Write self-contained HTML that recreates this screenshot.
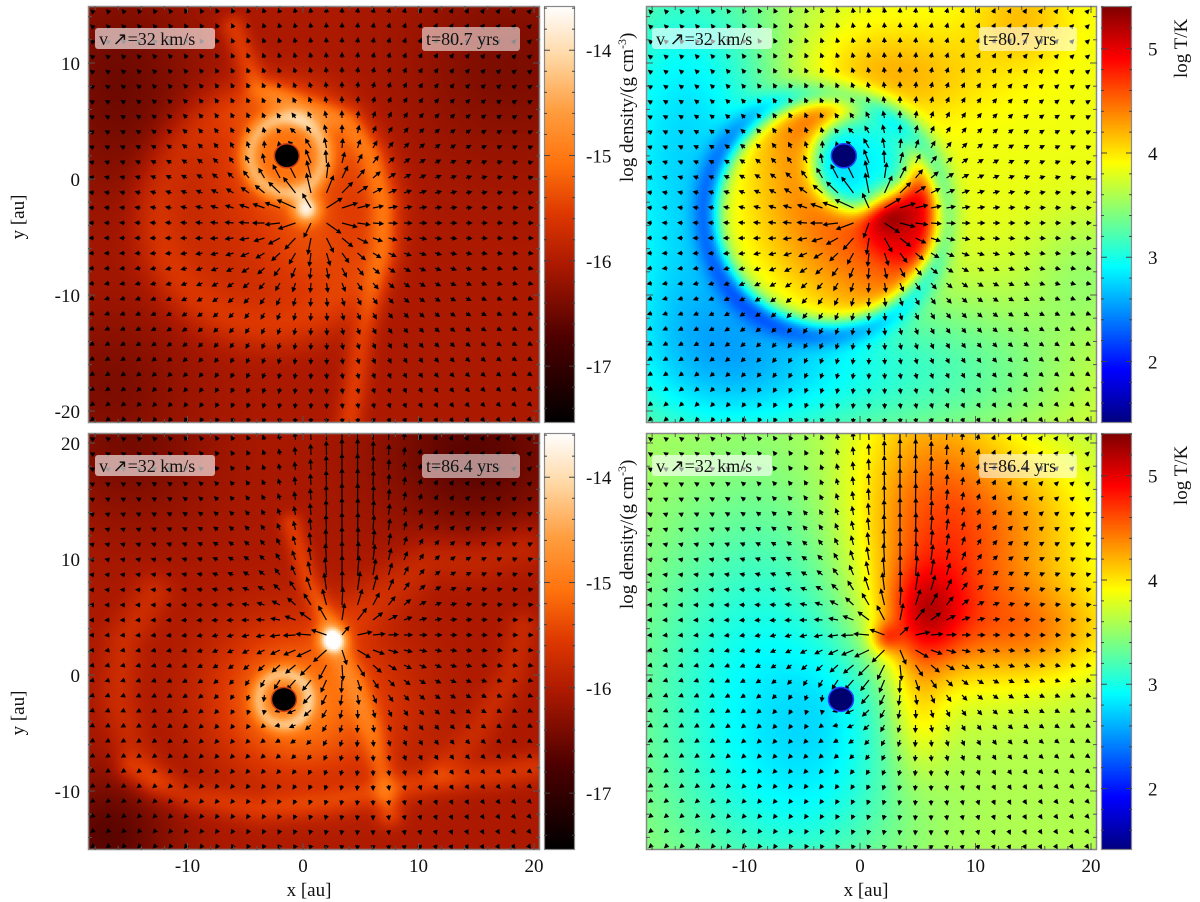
<!DOCTYPE html>
<html><head><meta charset="utf-8">
<style>
body{margin:0;background:#fff;width:1200px;height:902px;overflow:hidden;font-family:"Liberation Serif",serif;}
#wrap{position:relative;width:1200px;height:902px;}
canvas{position:absolute;}
svg{position:absolute;left:0;top:0;}
</style></head>
<body>
<div id="wrap">
<canvas id="c0"></canvas>
<canvas id="c1"></canvas>
<canvas id="c2"></canvas>
<canvas id="c3"></canvas>
<canvas id="cb0"></canvas>
<canvas id="cb1"></canvas>
<canvas id="cb2"></canvas>
<canvas id="cb3"></canvas>
<svg id="ov" width="1200" height="902"></svg>
</div>
<script>
// ---------- data (au coordinates, field values) ----------
const xTicks=[-10,0,10,20];
const yTicksTop=[10,0,-10,-20];
const yTicksBottom=[20,10,0,-10];
const densTicks=[-14,-15,-16,-17];
const tempTicks=[5,4,3,2];
const densRange=[-17.54,-13.58];
const tempRange=[1.41,5.41];
const timeLabels=["t=80.7 yrs","t=86.4 yrs"];
const starTop=[-1.4,2.0];
const starBottom=[-1.65,-2.1];
// gaussians: [cx,cy,sx,sy,amp]
const dens1Gauss=[[-16,8,5,7,-0.45],[18,10,6,6,-0.35],[-17,-18,5,5,-0.35],[-1.4,2.0,3.5,3.5,0.7],[0.3,-2.6,0.8,0.8,1.6],[1,-6,3,3,0.3]];
const dens1Rings=[[-3,-3,10,1.5,0.3],[-1.4,2.0,3.2,0.6,0.9]];
const dens1Discs=[[-3,-3,10,0.8,0.3]];
const dens1Fils=[[0.5,0.8,[-6,13,-4,8,0,6,4,5,6,2,7,-2,7,-6,6,-10,5,-14,4.5,-18,4,-21]]];
const dens1Base=-16.05;
const temp1Gauss=[[-15,2,7,14,-1.1],[-8,-16,10,6,-0.9],[2.3,-2.7,1.3,1.3,0.5],[2,9,6,3,0.4],[14,14,3,3,0.3],[10,-17,8,5,-0.4],[20,-8,4,4,-0.3]];
const temp1Rings=[[-3,-3,10.3,0.9,-0.55]];
const temp1Discs=[[-3,-3,9.5,0.5,1.0],[3.8,-3.8,3.5,0.5,0.3],[0.2,1.5,4.2,0.6,-1.9]];
const temp1Fils=[];
const temp1Base=3.85;
const dens2Gauss=[[15,19,6,5,-0.6],[-15,20,5,5,-0.4],[-17,-14,4,4,-0.6],[-1.65,-2.1,4.5,4.5,0.9],[2.6,3.0,0.7,0.7,1.6],[4,-3,5,5,0.4]];
const dens2Rings=[[-1.65,-2.1,2.2,0.5,0.8]];
const dens2Discs=[];
const dens2Fils=[[0.5,0.7,[-1,13,0.5,8,2,5,2.6,3]],[0.5,0.8,[2.6,3,4.5,-1,6,-5,7,-9,7.5,-12]],[0.4,0.9,[-15,-8,-10,-10.5,-4,-11.5,2,-11,7,-10,12,-9,17,-8.5,20,-8]],[0.3,1.2,[-13,7,-15.5,3,-16,-2,-15,-6,-13,-9]],[0.3,1.5,[3,4,7,7,11,10,15,10,19,11]],[0.25,1.0,[19,4,18,0,15,-5,12,-8]]];
const dens2Base=-16.05;
const temp2Gauss=[[6,13,5,9,0.9],[13,9,7,6,0.4],[5.5,5,2.5,3,0.8],[2.2,3.2,0.9,0.9,0.6],[15,3.5,5,3,0.5],[5,-3,1.8,4,0.4],[15,15,4,4,0.2],[-8,-2,8,12,-0.7],[-1.65,-2.1,4,4,-0.2],[-3,-10,5,5,-0.2]];
const temp2Rings=[];
const temp2Discs=[];
const temp2Fils=[];
const temp2Base=3.6;
// velocity sources: [cx,cy,strength]
const flowTop=[[1,-3,1.0],[-1.4,2.0,-0.25]];
const flowBottom=[[3,3,0.8],[-1.65,-2.1,-0.2]];
const jetBottom=[4,4,4,0.25]; // x centre, y start, width, strength
// ---------- layout ----------
const panels=[
 {c:'c0',cb:'cb0',x0:88,y0:6,w:452,h:417,xz:303,yz:179,kind:'d',base:dens1Base,g:dens1Gauss,r:dens1Rings,d:dens1Discs,f:dens1Fils,star:starTop,flow:flowTop,jet:null,yt:yTicksTop,t:0,left:true},
 {c:'c1',cb:'cb1',x0:646,y0:6,w:451,h:417,xz:860,yz:179,kind:'t',base:temp1Base,g:temp1Gauss,r:temp1Rings,d:temp1Discs,f:temp1Fils,star:starTop,flow:flowTop,jet:null,yt:yTicksTop,t:0,left:false},
 {c:'c2',cb:'cb2',x0:88,y0:433,w:452,h:417,xz:303,yz:675,kind:'d',base:dens2Base,g:dens2Gauss,r:dens2Rings,d:dens2Discs,f:dens2Fils,star:starBottom,flow:flowBottom,jet:jetBottom,yt:yTicksBottom,t:1,left:true},
 {c:'c3',cb:'cb3',x0:646,y0:433,w:451,h:417,xz:860,yz:675,kind:'t',base:temp2Base,g:temp2Gauss,r:temp2Rings,d:temp2Discs,f:temp2Fils,star:starBottom,flow:flowBottom,jet:jetBottom,yt:yTicksBottom,t:1,left:false}
];
const SX=11.55, SY=11.6;
const densStops=[[0,0,0,0],[.2,.3,0,0],[.38,.68,.1,0],[.5,.87,.22,0],[.62,1,.45,.05],[.75,1,.62,.25],[.88,1,.85,.65],[1,1,1,1]];
const jetStops=[[0,0,0,.5],[.125,0,0,1],[.375,0,1,1],[.625,1,1,0],[.875,1,0,0],[1,.5,0,0]];
function cmap(st,t){t=Math.max(0,Math.min(1,t));for(let i=1;i<st.length;i++){if(t<=st[i][0]){const a=st[i-1],b=st[i],u=(t-a[0])/(b[0]-a[0]);return [a[1]+(b[1]-a[1])*u,a[2]+(b[2]-a[2])*u,a[3]+(b[3]-a[3])*u];}}const l=st[st.length-1];return [l[1],l[2],l[3]];}
function segDist(px,py,pts){let m=1e9;for(let i=0;i+3<pts.length;i+=2){const ax=pts[i],ay=pts[i+1],bx=pts[i+2],by=pts[i+3];const dx=bx-ax,dy=by-ay;let u=((px-ax)*dx+(py-ay)*dy)/(dx*dx+dy*dy);u=Math.max(0,Math.min(1,u));const ex=ax+u*dx-px,ey=ay+u*dy-py;const d=Math.sqrt(ex*ex+ey*ey);if(d<m)m=d;}return m;}
function field(P,x,y){let v=P.base;
 for(const g of P.g){const a=(x-g[0])/g[2],b=(y-g[1])/g[3];v+=g[4]*Math.exp(-0.5*(a*a+b*b));}
 for(const r of P.r){const d=Math.hypot(x-r[0],y-r[1])-r[2];v+=r[4]*Math.exp(-0.5*(d/r[3])*(d/r[3]));}
 for(const r of P.d){const d=Math.hypot(x-r[0],y-r[1]);v+=r[4]/(1+Math.exp((d-r[2])/r[3]));}
 for(const f of P.f){const d=segDist(x,y,f[2]);v+=f[0]*Math.exp(-0.5*(d/f[1])*(d/f[1]));}
 return v;}
const NS='http://www.w3.org/2000/svg';
const ov=document.getElementById('ov');
function mk(tag,attrs,parent){const e=document.createElementNS(NS,tag);for(const k in attrs)e.setAttribute(k,attrs[k]);(parent||ov).appendChild(e);return e;}
function txt(s,x,y,attrs,parent){const e=mk('text',Object.assign({x:x,y:y,'font-family':'Liberation Serif, serif','font-size':19,fill:'#111'},attrs),parent);e.textContent=s;return e;}
const defs=mk('defs',{});

panels.forEach((P,pi)=>{
 const cv=document.getElementById(P.c);cv.width=P.w;cv.height=P.h;cv.style.left=P.x0+'px';cv.style.top=P.y0+'px';
 const ctx=cv.getContext('2d');const im=ctx.createImageData(P.w,P.h);
 const st=P.kind==='d'?densStops:jetStops;const R=P.kind==='d'?densRange:tempRange;
 for(let j=0;j<P.h;j+=2)for(let i=0;i<P.w;i+=2){
  const x=(P.x0+i+1-P.xz)/SX,y=(P.yz-(P.y0+j+1))/SY;
  const c=cmap(st,(field(P,x,y)-R[0])/(R[1]-R[0]));
  for(let dj=0;dj<2;dj++)for(let di=0;di<2;di++){const ii=i+di,jj=j+dj;if(ii>=P.w||jj>=P.h)continue;const k=(jj*P.w+ii)*4;im.data[k]=c[0]*255;im.data[k+1]=c[1]*255;im.data[k+2]=c[2]*255;im.data[k+3]=255;}
 }
 ctx.putImageData(im,0,0);
 // colorbar
 const cb=document.getElementById(P.cb);const cbx=P.left?544:1101,cbw=31;
 cb.width=cbw;cb.height=P.h;cb.style.left=cbx+'px';cb.style.top=P.y0+'px';
 const cctx=cb.getContext('2d');
 for(let j=0;j<P.h;j++){const c=cmap(st,1-j/(P.h-1));cctx.fillStyle=`rgb(${c[0]*255|0},${c[1]*255|0},${c[2]*255|0})`;cctx.fillRect(0,j,cbw,1);}
 const g=mk('g',{});
 
 
 mk('rect',{x:cbx+0.5,y:P.y0+0.5,width:cbw-1,height:P.h-1,fill:'none',stroke:'#888','stroke-width':1.2},g);
 const vy=v=>P.y0+(R[1]-v)/(R[1]-R[0])*P.h;
 for(let v=Math.ceil(R[0]*5)/5;v<=R[1];v+=0.2){const yy=vy(v);const maj=Math.abs(v-Math.round(v))<1e-6;const L=maj?6:3;
  mk('line',{x1:cbx,y1:yy,x2:cbx+L,y2:yy,stroke:'#444','stroke-width':1},g);mk('line',{x1:cbx+cbw-L,y1:yy,x2:cbx+cbw,y2:yy,stroke:'#444','stroke-width':1},g);}
 const ticks=P.kind==='d'?densTicks:tempTicks;
 ticks.forEach(v=>{const e=txt(String(v),cbx+cbw+(P.kind==='d'?11:16),vy(v)+7,{},g);});
 if(P.kind==='d'){const e=txt('log density/(g cm',0,0,{transform:`translate(633,${P.y0+176}) rotate(-90)`},g);const s=mk('tspan',{'baseline-shift':'super','font-size':12},e);s.textContent='-3';const s2=mk('tspan',{},e);s2.textContent=')';}
 else{const e=txt('log T/K',0,0,{transform:`translate(1187,${P.y0+72}) rotate(-90)`},g);}
 // clip
 const cp=mk('clipPath',{id:'clip'+pi},defs);
 mk('rect',{x:P.x0,y:P.y0,width:P.w,height:P.h},cp);
 // arrows
 const ag=mk('g',{'clip-path':`url(#clip${pi})`});
 
 
 for(let r=0;r<28;r++)for(let c=0;c<29;c++){
  const px=P.x0+6+c*15.5,py=P.y0+7+r*15;
  const x=(px-P.xz)/SX,y=(P.yz-py)/SY;
  let vx=0,vyv=0;
  for(const s of P.flow){const dx=x-s[0],dy=y-s[1];const d2=dx*dx+dy*dy+2;vx+=s[2]*dx/d2;vyv+=s[2]*dy/d2;}
  if(P.jet&&y>P.jet[1]){const w=Math.exp(-Math.pow((x-P.jet[0])/P.jet[2],2))*Math.min(1,(y-P.jet[1])/4);vyv+=P.jet[3]*w;}
  const m=Math.hypot(vx,vyv)||1e-6;const L=Math.min(21,4+45*m);
  const ux=vx/m,uy=-vyv/m;const tx=px+ux*L,ty=py+uy*L;
  const a=mk('line',{x1:px,y1:py,x2:tx-ux*3,y2:ty-uy*3,stroke:'#000','stroke-width':1.2},ag);
  
  
  const h=mk('polygon',{points:`${tx},${ty} ${tx-ux*5-uy*2.6},${ty-uy*5+ux*2.6} ${tx-ux*5+uy*2.6},${ty-uy*5-ux*2.6}`,fill:'#000'},ag);
  
  
 }
 // star
 const sx=P.xz+P.star[0]*SX,sy=P.yz-P.star[1]*SY;
 const st1=mk('ellipse',{cx:sx,cy:sy,rx:12.5,ry:12,fill:P.kind==='d'?'#000':'#00006e',stroke:P.kind==='d'?'#d04010':'#2040ff','stroke-width':1.5});
 
 
 // frame & ticks
 const fg=mk('g',{});
 
 
 mk('rect',{x:P.x0+0.5,y:P.y0+0.5,width:P.w-1,height:P.h-1,fill:'none',stroke:'#888','stroke-width':1.5},fg);
 for(let v=-18;v<=20;v+=2){const xx=P.xz+v*SX;const L=v%10===0?7:4;mk('line',{x1:xx,y1:P.y0+P.h,x2:xx,y2:P.y0+P.h-L,stroke:'#555'},fg);mk('line',{x1:xx,y1:P.y0,x2:xx,y2:P.y0+L,stroke:'#555'},fg);}
 for(let v=-20;v<=20;v+=2){const yy=P.yz-v*SY;if(yy<P.y0||yy>P.y0+P.h)continue;const L=v%10===0?7:4;mk('line',{x1:P.x0,y1:yy,x2:P.x0+L,y2:yy,stroke:'#555'},fg);mk('line',{x1:P.x0+P.w,y1:yy,x2:P.x0+P.w-L,y2:yy,stroke:'#555'},fg);}
 if(P.left){P.yt.forEach(v=>{const e=txt(String(v),80,P.yz-v*SY+7,{'text-anchor':'end'},fg);});
  const e=txt('y [au]',0,0,{'text-anchor':'middle',transform:`translate(24,${P.yz+38}) rotate(-90)`},fg);}
 if(P.t===1){xTicks.forEach(v=>{const e=txt(String(v),P.xz+v*SX,P.y0+P.h+22,{'text-anchor':'middle'},fg);});
  const e=txt('x [au]',P.xz+6,P.y0+P.h+46,{'text-anchor':'middle'},fg);}
 // boxes
 const bx=P.x0+(P.left?7:6),by=P.y0+22;
 const lb=mk('g',{});
 
 
 mk('rect',{x:bx,y:by,width:120,height:21,rx:3,fill:'rgba(255,255,255,0.62)'},lb);
 txt('v \u2197=32 km/s',bx+4,by+17,{'font-size':18},lb);
 const tb=mk('g',{});
 
 
 const tx0=P.x0+P.w-118;
 mk('rect',{x:tx0,y:by-1,width:98,height:24,rx:3,fill:'rgba(255,255,255,0.55)'},tb);
 txt(timeLabels[P.t],tx0+4,by+17,{'font-size':18},tb);
});
</script>
</body></html>
